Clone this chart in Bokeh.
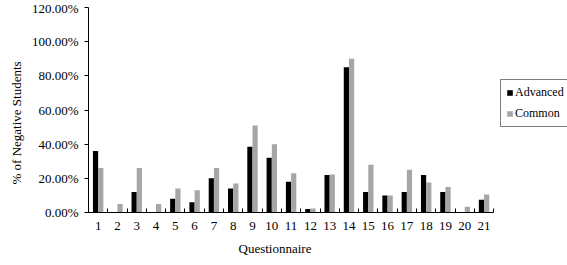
from bokeh.plotting import figure
from bokeh.models import ColumnDataSource, Range1d, FixedTicker, PrintfTickFormatter, Legend, LegendItem, Title
from bokeh.transform import dodge
from bokeh.embed import file_html
from bokeh.resources import INLINE

questions = [str(i) for i in range(1, 22)]
advanced = [36, 0, 12, 0, 8, 6, 20, 14, 38.5, 32, 18, 2, 22, 85, 12, 10, 12, 22, 12, 0, 7.5]
common = [26, 5, 26, 5, 14, 13, 26, 17, 51, 40, 23, 2.3, 22.3, 90, 28, 10, 25, 17.5, 15, 3.3, 10.6]
y_ticks = [0, 20, 40, 60, 80, 100, 120]

positions = list(range(1, len(questions) + 1))
src = ColumnDataSource(dict(x=positions, adv=advanced, com=common))

FONT = "Liberation Serif"
N = len(questions)
# frame runs to the right edge; the category axis occupies 405 of its 479 px
x_end = 0.5 + N * 479.0 / 405.2

p = figure(width=567, height=265, output_backend="svg", toolbar_location=None,
           x_range=Range1d(0.5, x_end), y_range=Range1d(0, 120),
           min_border_left=88, min_border_right=0, min_border_top=7, min_border_bottom=53)
p.outline_line_color = None
p.xgrid.grid_line_color = None
p.ygrid.grid_line_color = None
p.background_fill_color = "white"
p.border_fill_color = "white"

r_adv = p.vbar(x=dodge("x", -0.135, range=p.x_range), top="adv", width=0.27, source=src,
               fill_color="black", line_color=None)
r_com = p.vbar(x=dodge("x", 0.135, range=p.x_range), top="com", width=0.27, source=src,
               fill_color="#a6a6a6", line_color=None)

# x axis
xa = p.xaxis[0]
xa.bounds = (0.5, N + 0.5)
xa.ticker = FixedTicker(ticks=positions, minor_ticks=[i + 0.5 for i in range(0, N + 1)])
xa.major_label_overrides = {pos: q for pos, q in zip(positions, questions)}
xa.major_tick_in = 0
xa.major_tick_out = 0
xa.minor_tick_in = 4
xa.minor_tick_out = 0
xa.minor_tick_line_color = "black"
xa.axis_line_color = "black"
xa.major_label_standoff = 9

# y axis
ya = p.yaxis[0]
ya.ticker = FixedTicker(ticks=y_ticks, minor_ticks=[])
ya.formatter = PrintfTickFormatter(format="%.2f%%")
ya.major_tick_in = 0
ya.major_tick_out = 4
ya.minor_tick_line_color = None
ya.axis_line_color = "black"
ya.major_label_standoff = 6

for ax in (xa, ya):
    ax.major_label_text_font = FONT
    ax.major_label_text_font_size = "13px"
    ax.major_label_text_color = "black"
    ax.major_tick_line_color = "black"

x_title = Title(text="Questionnaire", align="left", offset=150, standoff=12,
                text_font=FONT, text_font_size="13px", text_font_style="normal",
                text_color="black")
p.add_layout(x_title, "below")

y_title = Title(text="% of Negative Students", align="left", offset=28, standoff=10,
                text_font=FONT, text_font_size="13px", text_font_style="normal",
                text_color="black")
p.add_layout(y_title, "left")

legend = Legend(items=[LegendItem(label="Advanced", renderers=[r_adv]),
                       LegendItem(label="Common", renderers=[r_com])],
                location=(412, 85), orientation="vertical")
legend.label_text_font = FONT
legend.label_text_font_size = "12px"
legend.label_text_color = "black"
legend.glyph_width = 7
legend.glyph_height = 7
legend.label_height = 12
legend.label_standoff = 2
legend.spacing = 6
legend.padding = 5
legend.margin = 0
legend.border_line_color = "black"
legend.border_line_width = 1
legend.background_fill_color = "white"
legend.background_fill_alpha = 1
p.add_layout(legend, "center")

open("out.html", "w").write(file_html(p, INLINE))
